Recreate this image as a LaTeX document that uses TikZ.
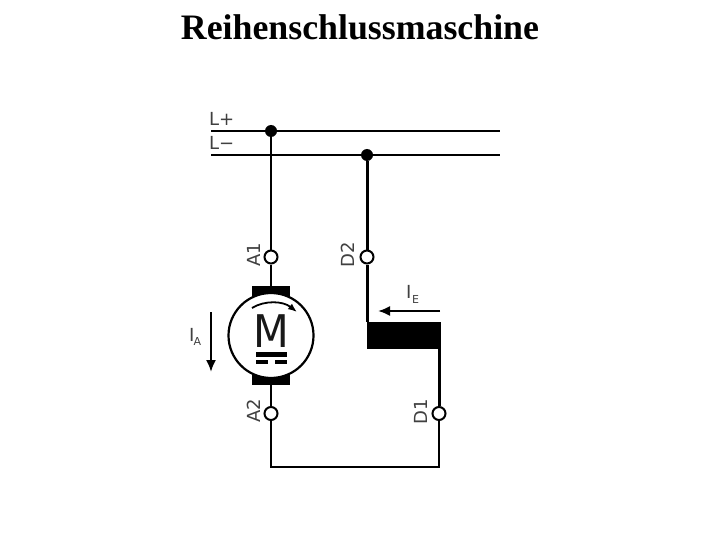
\documentclass[tikz,border=0pt]{standalone}
\usepackage{fontspec}
\setmainfont{Liberation Serif}
\newfontfamily\lblfont{DejaVu Sans}
\usetikzlibrary{arrows.meta}
\tikzset{
  wire/.style={line width=2.1pt,black},
  thickwire/.style={line width=3pt,black},
  term/.style={circle,draw=black,fill=white,line width=2pt,minimum size=13pt,inner sep=0pt},
  junction/.style={circle,fill=black,minimum size=12pt,inner sep=0pt},
  block/.style={fill=black,draw=none,inner sep=0pt},
  lbl/.style={font=\lblfont\fontsize{18}{18}\selectfont,text=black!75,inner sep=0pt},
  sublbl/.style={font=\lblfont\fontsize{11}{11}\selectfont,text=black!75,inner sep=0pt},
  curr/.style={line width=2pt,-{Latex[length=12pt,width=10pt]}}
}
\begin{document}
\begin{tikzpicture}[x=1pt,y=-1pt]
\useasboundingbox (0,0) rectangle (720,540);
\node[font=\fontsize{35.8}{36}\selectfont\bfseries,inner sep=0pt] (title) at (360,27) {Reihenschlussmaschine};
% mains
\coordinate (lpL) at (211,131); \coordinate (lpR) at (500,131);
\coordinate (lmL) at (211,155); \coordinate (lmR) at (500,155);
\draw[wire] (lpL) -- (lpR);
\draw[wire] (lmL) -- (lmR);
\node[lbl,anchor=west] (lplus) at (209,119) {L+};
\node[lbl,anchor=west] (lminus) at (209,143) {L−};
\node[junction] (j1) at (271,131) {};
\node[junction] (j2) at (367,155) {};
\node[term] (A1) at (271,257) {};
\node[term] (D2) at (367,257) {};
\node[term] (A2) at (271,413.5) {};
\node[term] (D1) at (439,413.5) {};
% motor
\node[block,minimum width=38pt,minimum height=10pt] (bt) at (271,291) {};
\node[block,minimum width=38pt,minimum height=10pt] (bb) at (271,380) {};
\node[circle,draw=black,fill=white,line width=2.2pt,minimum size=85pt,inner sep=0pt] (mot) at (271,335.5) {};
\node[font=\lblfont\fontsize{45}{45}\selectfont,text=black!90,inner sep=0pt,xscale=0.92] (M) at (271,331) {M};
\fill (256,352) rectangle (287,356.5);
\fill (256,360) rectangle (268,364);
\fill (275,360) rectangle (287,364);
\draw[line width=1.8pt,-{Latex[length=9pt,width=7pt]}] (252,308) .. controls (265,300) and (283,301) .. (297,312);
% field
\node[block,minimum width=74pt,minimum height=27pt] (field) at (404,335.5) {};
\coordinate (c1) at (439,467); \coordinate (c2) at (271,467);
% wires
\draw[wire] (j1) -- (A1);
\draw[wire] (A1) -- (bt);
\draw[wire] (bb) -- (A2);
\draw[wire] (A2) -- (c2) -- (c1) -- (D1);
\draw[thickwire] (D1) -- (439,349);
\draw[thickwire] (j2) -- (D2);
\draw[thickwire] (D2) -- (367,322);
% labels
\node[lbl,rotate=90] (lA1) at (254,255) {A1};
\node[lbl,rotate=90] (lD2) at (348,255) {D2};
\node[lbl,rotate=90] (lA2) at (254,411) {A2};
\node[lbl,rotate=90] (lD1) at (421,412) {D1};
% currents
\coordinate (ia1) at (211,312); \coordinate (ia2) at (211,372);
\draw[curr] (ia1) -- (ia2);
\node[lbl,anchor=west] (iA) at (189,335) {I};
\node[sublbl,anchor=west] (iAs) at (193.5,341) {A};
\coordinate (ie1) at (440,311); \coordinate (ie2) at (378,311);
\draw[curr] (ie1) -- (ie2);
\node[lbl,anchor=west] (iE) at (406,292) {I};
\node[sublbl,anchor=west] (iEs) at (412,299) {E};
\end{tikzpicture}
\end{document}
